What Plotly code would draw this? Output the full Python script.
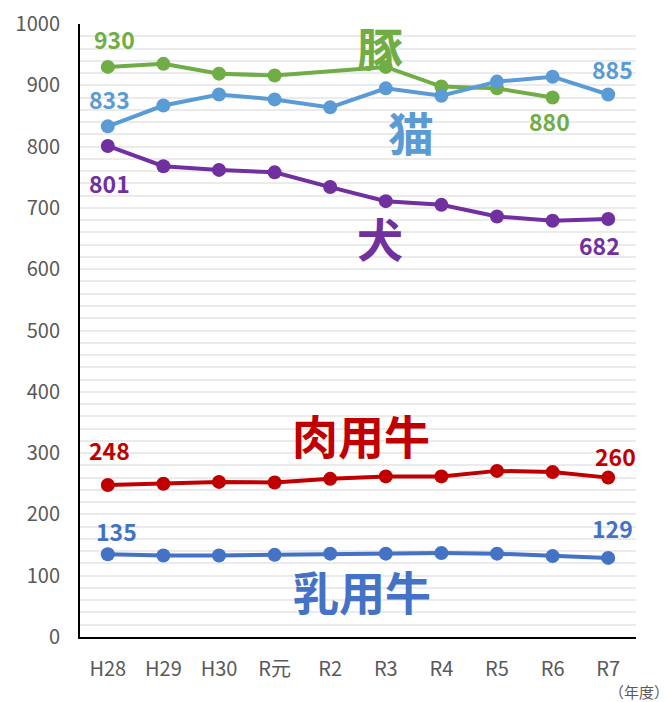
import plotly.graph_objects as go

categories = ["H28", "H29", "H30", "R元", "R2", "R3", "R4", "R5", "R6", "R7"]
pig = [930, 935, 919, 916, None, 930, 898, 895, 880, None]
cat = [833, 867, 885, 877, 864, 895, 883, 906, 914, 885]
dog = [801, 768, 762, 758, 734, 711, 705, 686, 679, 682]
beef = [248, 250, 253, 252, 258, 262, 262, 271, 269, 260]
dairy = [135, 133, 133, 134, 136, 136, 137, 136, 132, 129]

y_ticks = [0, 100, 200, 300, 400, 500, 600, 700, 800, 900, 1000]

C_PIG = "#70AD47"
C_CAT = "#5B9BD5"
C_DOG = "#7030A0"
C_BEEF = "#C00000"
C_DAIRY = "#4472C4"

FONT = "Noto Sans CJK JP"

fig = go.Figure()
for vals, col, name in [(dairy, C_DAIRY, "乳用牛"), (beef, C_BEEF, "肉用牛"),
                        (dog, C_DOG, "犬"), (pig, C_PIG, "豚"), (cat, C_CAT, "猫")]:
    fig.add_trace(go.Scatter(
        x=categories, y=vals, mode="lines+markers", name=name,
        connectgaps=True,
        line=dict(color=col, width=4),
        marker=dict(color=col, size=14),
        hoverinfo="x+y+name",
    ))

def num_label(xc, yv, text, col, yshift, xshift=0):
    fig.add_annotation(x=xc, y=yv, text=f"<b>{text}</b>", showarrow=False,
                       xshift=xshift, yshift=yshift,
                       font=dict(family=FONT, size=23, color=col))

num_label(categories[0], pig[0], pig[0], C_PIG, 28, 7)
num_label(categories[8], pig[8], pig[8], C_PIG, -23, -3)
num_label(categories[0], cat[0], cat[0], C_CAT, 27, 2)
num_label(categories[9], cat[9], cat[9], C_CAT, 26, 4)
num_label(categories[0], dog[0], dog[0], C_DOG, -37, 2)
num_label(categories[9], dog[9], dog[9], C_DOG, -26, -9)
num_label(categories[0], beef[0], beef[0], C_BEEF, 35, 2)
num_label(categories[9], beef[9], beef[9], C_BEEF, 22, 7)
num_label(categories[0], dairy[0], dairy[0], C_DAIRY, 23, 9)
num_label(categories[9], dairy[9], dairy[9], C_DAIRY, 30, 4)

def big_label(xi, yv, text, col):
    fig.add_annotation(x=xi, y=yv, text=f"<b>{text}</b>", showarrow=False,
                       font=dict(family=FONT, size=46, color=col))

big_label(4.9, 964, "豚", C_PIG)
big_label(5.45, 826, "猫", C_CAT)
big_label(4.9, 652, "犬", C_DOG)
big_label(4.55, 331, "肉用牛", C_BEEF)
big_label(4.57, 76, "乳用牛", C_DAIRY)

fig.add_annotation(xref="paper", yref="paper", x=1.063, y=-0.0897,
                   xanchor="right", yanchor="middle", text="（年度）",
                   showarrow=False, font=dict(family=FONT, size=15, color="#595959"))

# page body has an 8px default margin, so margins are offset by 8px
fig.update_layout(
    width=671, height=702,
    margin=dict(l=72, r=43, t=16, b=73),
    paper_bgcolor="white", plot_bgcolor="white",
    showlegend=False,
    font=dict(family=FONT, color="#595959"),
)
fig.update_xaxes(
    type="category", categoryorder="array", categoryarray=categories,
    range=[-0.5, len(categories) - 0.5], automargin=False,
    showline=True, linecolor="black", linewidth=2,
    showgrid=False, ticks="", ticklabelstandoff=13,
    ticklabeloverflow="allow",
    tickfont=dict(family=FONT, size=20, color="#595959"),
)
fig.update_yaxes(
    range=[0, 1000], tickvals=y_ticks, automargin=False,
    showline=True, linecolor="black", linewidth=2,
    showgrid=True, gridcolor="#ebebeb", gridwidth=2,
    minor=dict(dtick=20, showgrid=True, gridcolor="#ebebeb", gridwidth=2),
    zeroline=False, ticks="", ticklabelstandoff=14,
    ticklabeloverflow="allow",
    tickfont=dict(family=FONT, size=20, color="#595959"),
)

fig.write_html("out.html")
